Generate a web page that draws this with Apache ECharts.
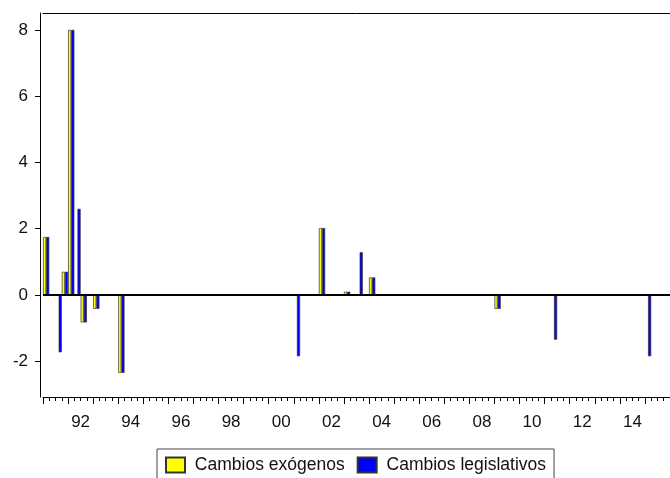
<!DOCTYPE html>
<html>
<head>
    <meta charset="UTF-8">
    <title>Cambios exógenos y legislativos</title>
    <script src="https://cdn.jsdelivr.net/npm/echarts@6.0.0/dist/echarts.min.js"></script>
    <style>
        * { margin: 0; padding: 0; box-sizing: border-box; }
        body { background: #fff; }
        #chart { width: 670px; height: 478px; }
    </style>
</head>
<body>
    <div id="chart"></div>
    <script>
        // years shown on the axis (quarterly data 1991Q1 - 2015Q4)
        const years = [1991, 1992, 1993, 1994, 1995, 1996, 1997, 1998, 1999, 2000, 2001, 2002, 2003,
                       2004, 2005, 2006, 2007, 2008, 2009, 2010, 2011, 2012, 2013, 2014, 2015];
        const yTicks = [-2, 0, 2, 4, 6, 8];

        // only the quarters with a change are listed
        const exoQuarters = ['1991Q1', '1991Q4', '1992Q1', '1992Q3', '1993Q1', '1994Q1',
                             '2002Q1', '2003Q1', '2004Q1', '2009Q1'];
        const exoValues = [1.75, 0.7, 8.0, -0.83, -0.42, -2.35, 2.02, 0.1, 0.53, -0.42];

        const legQuarters = ['1991Q1', '1991Q3', '1991Q4', '1992Q1', '1992Q2', '1992Q3', '1993Q1', '1994Q1',
                             '2001Q1', '2002Q1', '2003Q1', '2003Q3', '2004Q1', '2009Q1', '2011Q2', '2015Q1'];
        const legValues = [1.75, -1.73, 0.7, 8.0, 2.6, -0.83, -0.42, -2.35,
                           -1.85, 2.02, 0.1, 1.29, 0.53, -0.42, -1.35, -1.85];

        const quarters = [];
        years.forEach(y => { for (let q = 1; q <= 4; q++) quarters.push(y + 'Q' + q); });
        const yearLabels = years.map(y => String(y).slice(2));

        function fill(keys, vals) {
            const out = quarters.map(() => null);
            keys.forEach((k, i) => { out[quarters.indexOf(k)] = vals[i]; });
            return out;
        }

        const chart = echarts.init(document.getElementById('chart'));
        const font = 'Liberation Sans, Arial, sans-serif';

        chart.setOption({
            animation: false,
            grid: { left: 43, top: 13, width: 629, height: 384 },
            legend: {
                data: ['Cambios exógenos', 'Cambios legislativos'],
                top: 449,
                left: 157,
                icon: 'rect',
                borderColor: '#444',
                borderWidth: 1,
                padding: [7, 8, 10, 8],
                itemWidth: 19,
                itemHeight: 15,
                itemGap: 12,
                formatter: (name) => ' ' + name,
                textStyle: { fontFamily: font, fontSize: 17.5, color: '#111' }
            },
            xAxis: [
                {
                    type: 'category',
                    data: quarters,
                    position: 'bottom',
                    axisLine: { show: true, onZero: false, lineStyle: { color: '#000', width: 1 } },
                    axisTick: { show: true, interval: 0, length: 4, lineStyle: { color: '#000', width: 1 } },
                    axisLabel: { show: false }
                },
                {
                    type: 'category',
                    data: yearLabels,
                    position: 'bottom',
                    axisLine: { show: false, onZero: false },
                    axisTick: { show: true, interval: 0, length: 7, lineStyle: { color: '#000', width: 1 } },
                    axisLabel: {
                        interval: (i) => i % 2 === 1,
                        margin: 17,
                        fontFamily: font,
                        fontSize: 17,
                        color: '#111'
                    }
                },
                {
                    type: 'category',
                    data: yearLabels,
                    position: 'top',
                    axisLine: { show: true, onZero: false, lineStyle: { color: '#000', width: 1 } },
                    axisTick: { show: false },
                    axisLabel: { show: false }
                }
            ],
            yAxis: {
                type: 'value',
                min: -3.08,
                max: 8.51,
                offset: 3,
                axisLine: { show: true, lineStyle: { color: '#000' } },
                axisTick: { show: true, length: 5, customValues: yTicks, lineStyle: { color: '#000' } },
                axisLabel: { customValues: yTicks, margin: 12, fontFamily: font, fontSize: 17, color: '#111' },
                splitLine: { show: false }
            },
            series: [
                {
                    name: 'Cambios exógenos',
                    type: 'bar',
                    xAxisIndex: 0,
                    data: fill(exoQuarters, exoValues),
                    barGap: '0%',
                    barCategoryGap: '0%',
                    itemStyle: { color: '#ffff00', borderColor: '#333', borderWidth: 0.7 },
                    markLine: {
                        silent: true,
                        symbol: 'none',
                        label: { show: false },
                        lineStyle: { color: '#000', width: 2, type: 'solid' },
                        data: [{ yAxis: 0 }]
                    }
                },
                {
                    name: 'Cambios legislativos',
                    type: 'bar',
                    xAxisIndex: 0,
                    data: fill(legQuarters, legValues),
                    barGap: '0%',
                    barCategoryGap: '0%',
                    itemStyle: { color: '#0000ff', borderColor: '#333', borderWidth: 0.7 }
                }
            ]
        });
    </script>
</body>
</html>
